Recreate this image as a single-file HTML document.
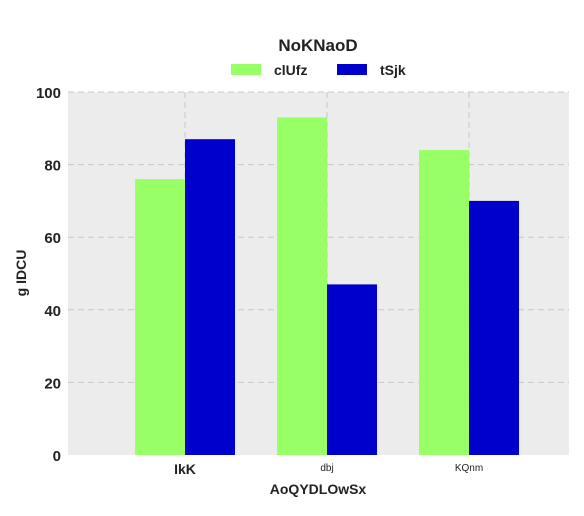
<!DOCTYPE html>
<html><head><meta charset="utf-8"><style>
body{margin:0;background:#fff}
svg text{font-family:"Liberation Sans",sans-serif;fill:#222}
</style></head><body>
<svg id="c" width="584" height="511">
<text x="318" y="51" text-anchor="middle" font-size="17" font-weight="bold">NoKNaoD</text>
<rect x="231" y="64" width="30" height="11" fill="#99ff66"/>
<text x="274" y="75" font-size="14" font-weight="bold">clUfz</text>
<rect x="337" y="64" width="30" height="11" fill="#0000cc"/>
<text x="380" y="75" font-size="14" font-weight="bold">tSjk</text>
<rect x="68" y="92" width="501" height="363" fill="#ececec"/>
<g id="grid"></g><g id="bars"></g><g id="axes"></g>
<text x="318" y="494" text-anchor="middle" font-size="14" font-weight="bold">AoQYDLOwSx</text>
<text transform="translate(26,273) rotate(-90)" text-anchor="middle" font-size="14" font-weight="bold">g IDCU</text>
</svg>
<script>
const categories=["IkK","dbj","KQnm"];
const seriesNames=["clUfz","tSjk"];
const greenValues=[76,93,84];
const blueValues=[87,47,70];
const yTicks=[0,20,40,60,80,100];
const NS="http://www.w3.org/2000/svg";
const L=68,R=569,T=92,B=455;
const xmin=-0.824,xmax=2.704;
function xs(v){return L+(v-xmin)/(xmax-xmin)*(R-L);}
function ys(v){return B-v/100*(B-T);}
function mk(t,a,p){const e=document.createElementNS(NS,t);for(const k in a)e.setAttribute(k,a[k]);p.appendChild(e);return e;}
const grid=document.getElementById('grid'),bars=document.getElementById('bars'),axes=document.getElementById('axes');
yTicks.forEach(v=>{
 if(v>0){const l=mk('line',{x1:L,x2:R,y1:ys(v),y2:ys(v),stroke:'#c8c8c8','stroke-dasharray':'6,4'},grid);
 
 }
 const t=mk('text',{x:61,y:ys(v)+6,'text-anchor':'end','font-size':15,'font-weight':'bold'},axes);
 t.textContent=v;
 
 
});
const bw=50/((R-L)/(xmax-xmin));
categories.forEach((c,i)=>{
 const gl=mk('line',{x1:xs(i),x2:xs(i),y1:T,y2:B,stroke:'#c8c8c8','stroke-dasharray':'6,4'},grid);
 
 
 const g=mk('rect',{x:xs(i-bw),y:ys(greenValues[i]),width:xs(i)-xs(i-bw),height:B-ys(greenValues[i]),fill:'#99ff66'},bars);
 
 
 const b=mk('rect',{x:xs(i),y:ys(blueValues[i]),width:xs(i+bw)-xs(i),height:B-ys(blueValues[i]),fill:'#0000cc'},bars);
 
 
 const big=i===0;
 const t=mk('text',{x:xs(i),y:big?474:471,'text-anchor':'middle','font-size':big?14:10,'font-weight':big?'bold':'normal'},axes);
 t.textContent=c;
 
 
});
</script>
</body></html>
